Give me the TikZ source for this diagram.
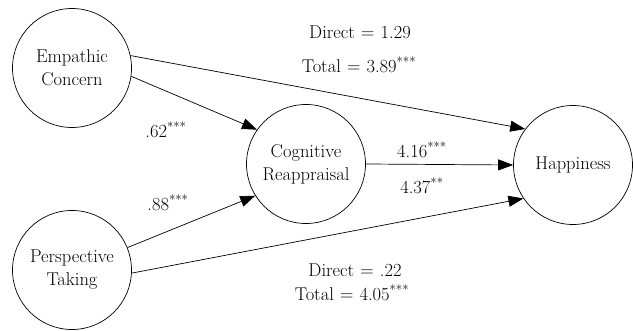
\documentclass[tikz,border=0pt]{standalone}
\usetikzlibrary{arrows.meta}

\begin{document}
\begin{tikzpicture}[x=1pt, y=-1pt, >={Triangle[length=15pt,width=11pt]},
    font=\fontsize{18.5}{23}\selectfont,
    var/.style={draw, circle, line width=0.7pt, inner sep=0pt, minimum size=119pt, align=center},
    path/.style={->, line width=0.7pt}]
    \useasboundingbox (0,0) rectangle (633,331);

    % the four variables
    \node[var] (ec) at (72,68) {Empathic\\Concern};
    \node[var] (pt) at (72,270) {Perspective\\Taking};
    \node[var] (cr) at (306,164) {Cognitive\\Reappraisal};
    \node[var] (hap) at (573,165) {Happiness};

    % paths
    \draw[path] (ec.12) -- (hap.143);
    \draw[path] (ec.-8) -- (cr.145);
    \draw[path] (cr.east) -- (hap.west);
    \draw[path] (pt.22) -- (cr.212);
    \draw[path] (pt.-3) -- (hap.214);

    % coefficients
    \node (ecdir) at (360,32) {Direct\,\,=\,\,1.29};
    \node (ectot) at (359,65) {Total\,\,=\,\,3.89\textsuperscript{***}};
    \node (a1) at (166,130) {.62\textsuperscript{***}};
    \node (a2) at (168,203) {.88\textsuperscript{***}};
    \node (b1) at (422,150) {4.16\textsuperscript{***}};
    \node (b2) at (422,186) {4.37\textsuperscript{**}};
    \node (ptdir) at (355,270) {Direct\,\,=\,\,.22};
    \node (pttot) at (352,293) {Total\,\,=\,\,4.05\textsuperscript{***}};
\end{tikzpicture}
\end{document}
